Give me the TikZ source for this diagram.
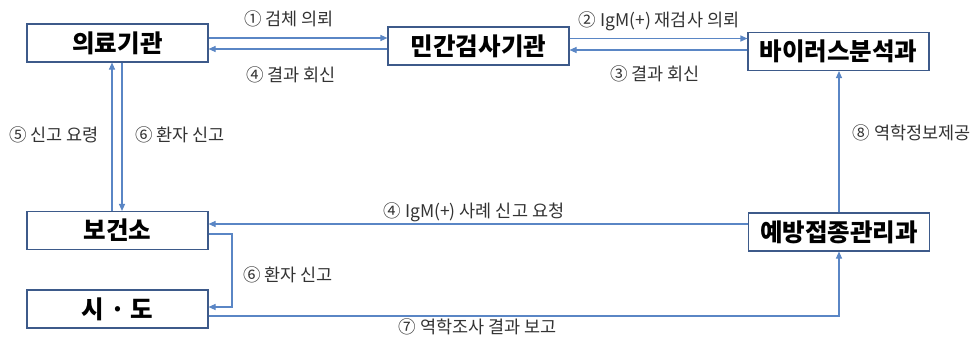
\documentclass[tikz,border=0pt]{standalone}
\usepackage{fontspec}
\setmainfont{Noto Sans CJK KR}
\usetikzlibrary{arrows.meta}
\definecolor{boxc}{HTML}{3D5A8A}
\definecolor{linec}{HTML}{5A86C5}
\definecolor{txtc}{HTML}{333333}
\tikzset{
  x=1pt, y=-1pt,
  box/.style={draw=boxc, line width=1.1pt, minimum width=181pt, minimum height=38pt, inner sep=0pt, fill=white,
    font=\fontsize{24.5}{28}\selectfont\bfseries},
  arr/.style={draw=linec, line width=1.1pt, -{Triangle[length=7pt,width=6pt]}},
  lbl/.style={text=txtc, inner sep=0pt, font=\fontsize{17.5}{20}\selectfont}
}
\begin{document}
\begin{tikzpicture}
\fill[white] (0,0) rectangle (974,338);
\useasboundingbox (0,0) rectangle (974,338);

\node[box] (ui) at (117.5,43) {의료기관};
\node[box] (mg) at (478.5,46) {민간검사기관};
\node[box] (vr) at (838.5,51.5) {바이러스분석과};
\node[box] (bg) at (117.5,230.5) {보건소};
\node[box] (sd) at (117.5,309) {시 · 도};
\node[box] (yb) at (839,232) {예방접종관리과};

\draw[arr] (ui.east |- 0,38) -- (mg.west |- 0,38);
\draw[arr] (mg.west |- 0,49) -- (ui.east |- 0,49);
\draw[arr] (mg.east |- 0,38.5) -- (vr.west |- 0,38.5);
\draw[arr] (vr.west |- 0,50) -- (mg.east |- 0,50);
\draw[arr] (yb.north) -- (yb.north |- vr.south);
\draw[arr] (bg.north -| 112,0) -- (ui.south -| 112,0);
\draw[arr] (ui.south -| 122,0) -- (bg.north -| 122,0);
\draw[arr] (yb.west |- 0,224) -- (bg.east |- 0,224);
\draw[arr] (bg.east |- 0,234) -- (232,234) |- (sd.east |- 0,307);
\draw[arr] (sd.east |- 0,316) -| (yb.south);

\node[lbl] (l1) at (289,19) {① 검체 의뢰};
\node[lbl] (l4a) at (291,75) {④ 결과 회신};
\node[lbl] (l2) at (659,21) {② IgM(+) 재검사 의뢰};
\node[lbl] (l3) at (655,74) {③ 결과 회신};
\node[lbl] (l5) at (54,135) {⑤ 신고 요령};
\node[lbl] (l6a) at (180,135) {⑥ 환자 신고};
\node[lbl, anchor=east] (l8) at (971,133) {⑧ 역학정보제공};
\node[lbl] (l4b) at (474,212) {④ IgM(+) 사례 신고 요청};
\node[lbl] (l6b) at (288,275) {⑥ 환자 신고};
\node[lbl] (l7) at (478,327) {⑦ 역학조사 결과 보고};
\end{tikzpicture}
\end{document}
